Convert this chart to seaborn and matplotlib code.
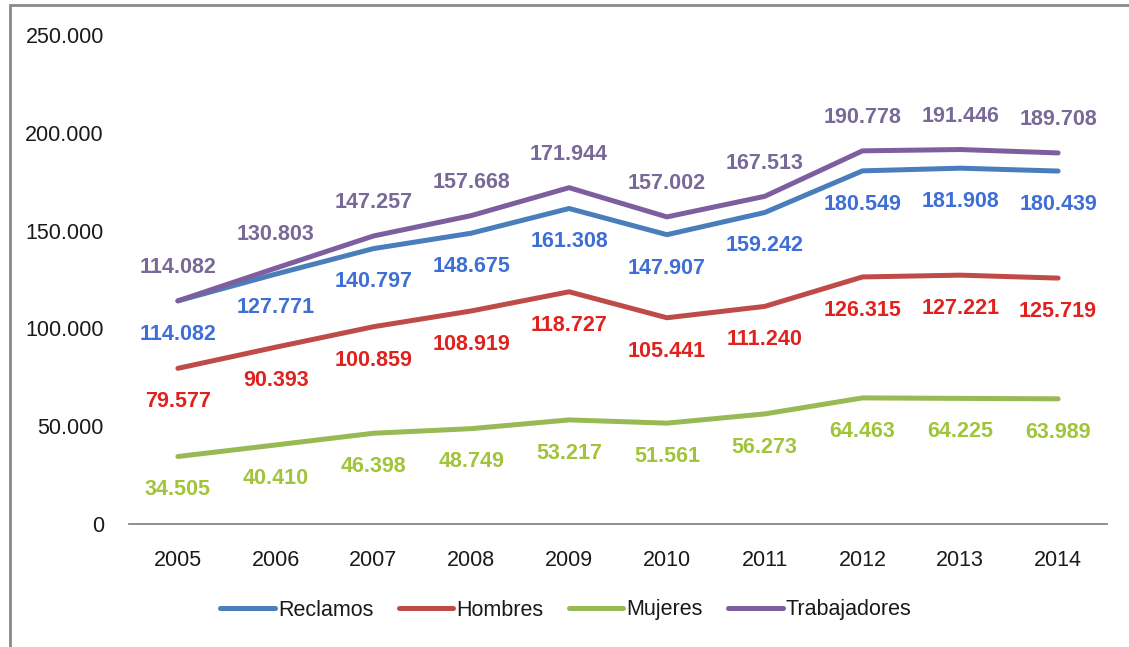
import matplotlib
matplotlib.use("Agg")
import matplotlib.pyplot as plt
import seaborn as sns
import pandas as pd
from matplotlib.patches import Rectangle

years = ["2005", "2006", "2007", "2008", "2009", "2010", "2011", "2012", "2013", "2014"]
reclamos = [114082, 127771, 140797, 148675, 161308, 147907, 159242, 180549, 181908, 180439]
hombres = [79577, 90393, 100859, 108919, 118727, 105441, 111240, 126315, 127221, 125719]
mujeres = [34505, 40410, 46398, 48749, 53217, 51561, 56273, 64463, 64225, 63989]
trabajadores = [114082, 130803, 147257, 157668, 171944, 157002, 167513, 190778, 191446, 189708]
series_names = ["Reclamos", "Hombres", "Mujeres", "Trabajadores"]
y_ticks = [0, 50000, 100000, 150000, 200000, 250000]

line_colors = {"Reclamos": "#4A7EBB", "Hombres": "#BE4B48",
               "Mujeres": "#98B954", "Trabajadores": "#7D5FA0"}
label_colors = {"Reclamos": "#3F6FD6", "Hombres": "#E0221F",
                "Mujeres": "#A2C43A", "Trabajadores": "#786A98"}
label_side = {"Reclamos": -1, "Hombres": -1, "Mujeres": -1, "Trabajadores": 1}

values = {"Reclamos": reclamos, "Hombres": hombres,
          "Mujeres": mujeres, "Trabajadores": trabajadores}
rows = []
for name in series_names:
    for i, (yr, v) in enumerate(zip(years, values[name])):
        rows.append({"pos": i, "year": yr, "value": v, "serie": name})
df = pd.DataFrame(rows)

sns.set_theme(style="white")
plt.rcParams["font.family"] = ["Liberation Sans", "DejaVu Sans"]

fig = plt.figure(figsize=(11.29, 6.47), dpi=100)
ax = fig.add_axes([129 / 1129, 1 - 524 / 647, (1107 - 129) / 1129, (524 - 35) / 647])

sns.lineplot(data=df, x="pos", y="value", hue="serie", hue_order=series_names,
             palette=line_colors, linewidth=3.6, ax=ax, legend=False,
             solid_capstyle="round")

def fmt(v):
    return f"{v:,}".replace(",", ".")

for name in series_names:
    for i, v in enumerate(values[name]):
        ax.annotate(fmt(v), (i, v), xytext=(0, 24 * label_side[name]),
                    textcoords="offset points", ha="center", va="center",
                    fontsize=15.5, fontweight="bold", color=label_colors[name])

ax.set_xlim(-0.5, len(years) - 0.5)
ax.set_ylim(0, 250000)
ax.set_xticks(range(len(years)))
ax.set_xticklabels(years)
ax.set_yticks(y_ticks)
ax.set_yticklabels([fmt(t) for t in y_ticks])
ax.tick_params(axis="x", length=0, pad=19, labelsize=15.5, labelcolor="#1a1a1a")
ax.tick_params(axis="y", length=0, pad=18, labelsize=15.5, labelcolor="#1a1a1a")
ax.set_xlabel("")
ax.set_ylabel("")
for s in ["top", "right", "left"]:
    ax.spines[s].set_visible(False)
ax.spines["bottom"].set_color("#868686")
ax.spines["bottom"].set_linewidth(1.3)
ax.grid(False)
ax.set_facecolor("none")

handles = [plt.Line2D([0], [0], color=line_colors[n], linewidth=3.6,
                      solid_capstyle="round") for n in series_names]
fig.legend(handles, series_names, loc="center", ncol=4,
           bbox_to_anchor=(566 / 1129, 1 - 610 / 647), frameon=False,
           fontsize=15.5, handlelength=2.55, handletextpad=0.15, columnspacing=1.15,
           labelcolor="#1a1a1a")

fig.patches.append(Rectangle((10 / 1129, -0.1), 1.2, 1 - 5 / 647 + 0.1,
                             transform=fig.transFigure, fill=False,
                             edgecolor="#8a8a8a", linewidth=2))

fig.savefig("out.png", dpi=100)
